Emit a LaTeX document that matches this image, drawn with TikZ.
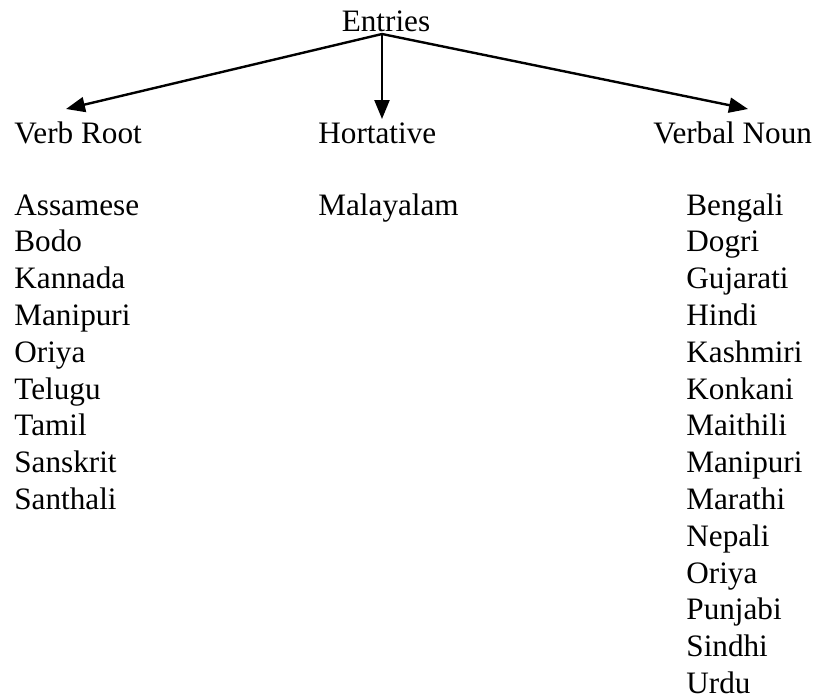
\documentclass[tikz,border=0pt]{standalone}
\usepackage{fontspec}
\setmainfont{Liberation Serif}
\usetikzlibrary{arrows.meta}

\begin{document}
\begin{tikzpicture}[x=0.5pt,y=-0.5pt,
  word/.style={inner sep=0pt,anchor=base west,font=\fontsize{15.6}{18}\selectfont},
  branch/.style={line width=1.2pt,-{Triangle[length=9.5pt,width=7.5pt]}}]
\useasboundingbox (0,0) rectangle (814,698);

\node[word,anchor=base] (entries) at (386,31) {Entries};
\coordinate (split) at (382,34);
\coordinate (tipvr) at (66,109);
\coordinate (tiph) at (382,119);
\coordinate (tipvn) at (748,109);

\draw[branch] (split) -- (tipvr);
\draw[branch] (split) -- (tiph);
\draw[branch] (split) -- (tipvn);

\node[word] (verbroot) at (14,143) {Verb Root};
\node[word] (hortative) at (318,143) {Hortative};
\node[word] (verbalnoun) at (653,143) {Verbal Noun};

%languages under each heading
\foreach \lang [count=\i from 0] in {Assamese,Bodo,Kannada,Manipuri,Oriya,Telugu,Tamil,Sanskrit,Santhali}
  \node[word] (vr\i) at (14,215+36.8*\i) {\lang};
\node[word] (h0) at (318,215) {Malayalam};
\foreach \lang [count=\i from 0] in {Bengali,Dogri,Gujarati,Hindi,Kashmiri,Konkani,Maithili,Manipuri,Marathi,Nepali,Oriya,Punjabi,Sindhi,Urdu}
  \node[word] (vn\i) at (686,215+36.8*\i) {\lang};
\end{tikzpicture}
\end{document}
